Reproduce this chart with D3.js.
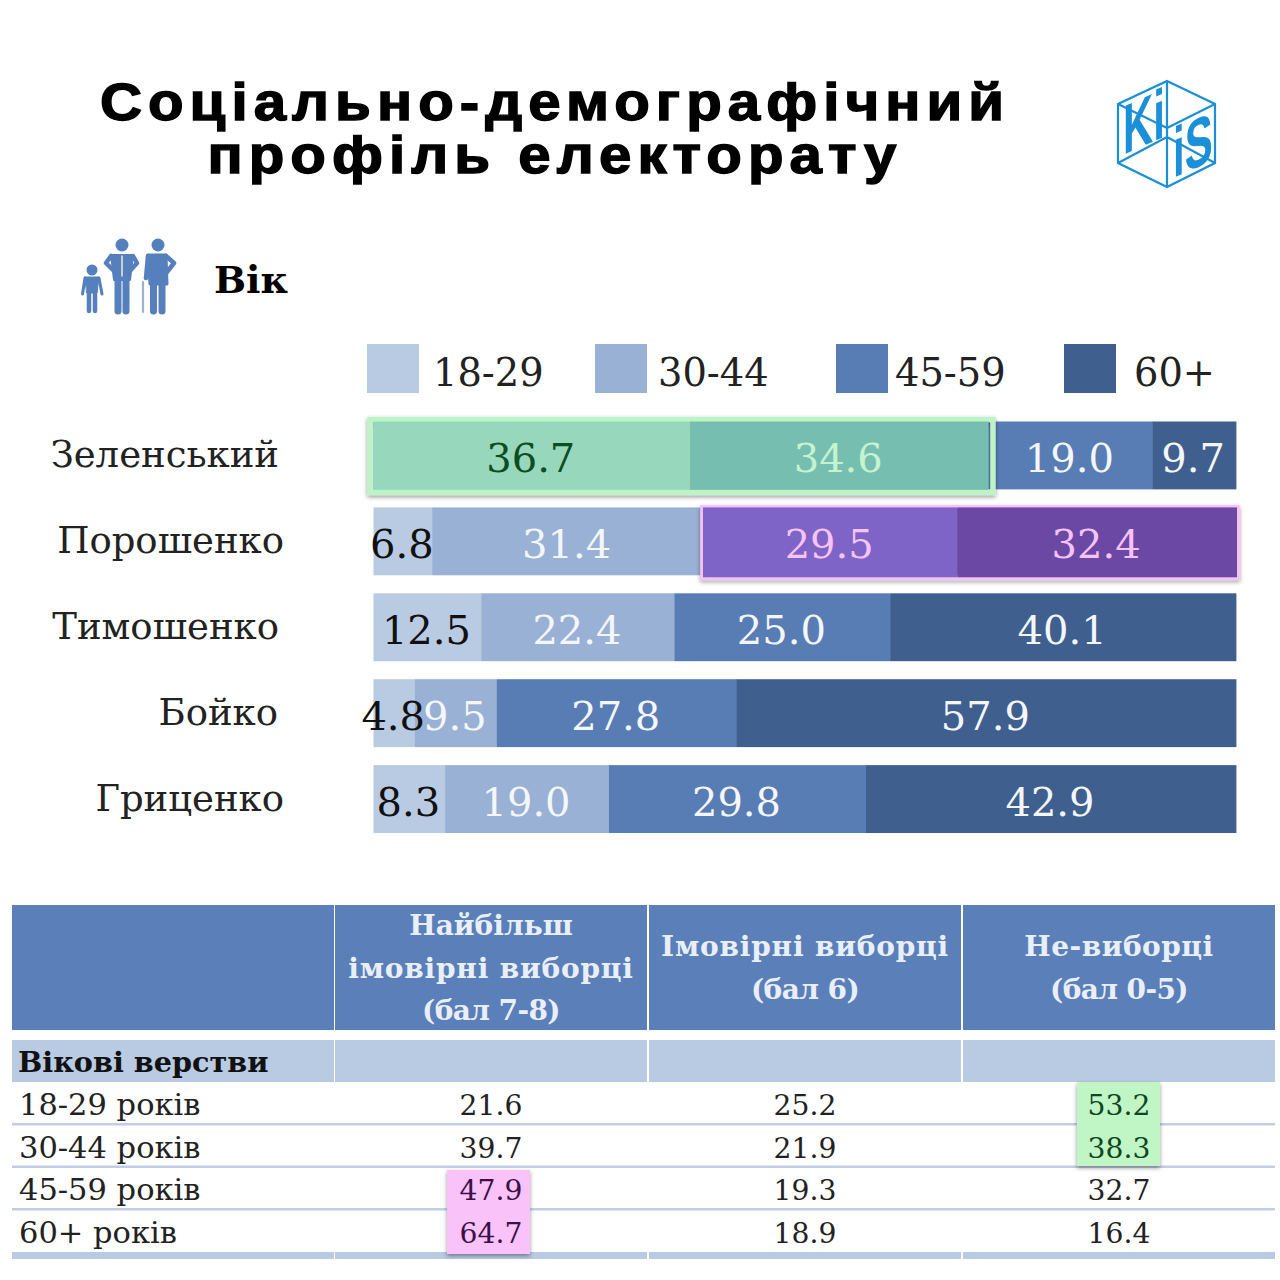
<!DOCTYPE html>
<html><head><meta charset="utf-8">
<script src="https://cdn.jsdelivr.net/npm/d3@7"></script>
<style>html,body{margin:0;padding:0;background:#fff}svg{display:block}</style>
</head><body><div id="c"></div>
<script>
const candidates=["Зеленський","Порошенко","Тимошенко","Бойко","Гриценко"];
const ageGroups=["18-29","30-44","45-59","60+"];
const v1829=[36.7,6.8,12.5,4.8,8.3];
const v3044=[34.6,31.4,22.4,9.5,19.0];
const v4559=[19.0,29.5,25.0,27.8,29.8];
const v60=[9.7,32.4,40.1,57.9,42.9];
const colors=["#b9cae3","#99b1d4","#587db4","#3f5f8f"];
const tableRows=["18-29 років","30-44 років","45-59 років","60+ років"];
const colMost=[21.6,39.7,47.9,64.7];
const colLikely=[25.2,21.9,19.3,18.9];
const colNon=[53.2,38.3,32.7,16.4];

const SERIF='"DejaVu Serif",serif', SANS='"Liberation Sans",Arial,sans-serif';
const svg=d3.select("#c").append("svg").attr("width",1280).attr("height",1280).attr("viewBox","0 0 1280 1280");
const defs=svg.append("defs");
const f=defs.append("filter").attr("id","sh").attr("x","-5%").attr("y","-10%").attr("width","110%").attr("height","125%");
f.append("feDropShadow").attr("dx",0).attr("dy",2).attr("stdDeviation",2).attr("flood-color","#000").attr("flood-opacity",.4);

// title
svg.append("g").selectAll("text").data([["Соціально-демографічний",555,120],["профіль електорату",555,173]]).join("text")
 .attr("transform",d=>`translate(${d[1]},${d[2]}) scale(1.12,1)`).attr("text-anchor","middle").attr("font-family",SANS).attr("font-weight",700)
 .attr("font-size",52).attr("letter-spacing",5.4).attr("fill","#000").attr("stroke","#000").attr("stroke-width",1.4).text(d=>d[0]);

// logo
const BLUE="#1b8fd8";
const logo=svg.append("g").attr("fill","none").attr("stroke",BLUE).attr("stroke-width",2.2);
logo.append("path").attr("d","M1167 81L1215 104L1215 163L1167 187L1118 163L1118 104Z");
logo.append("path").attr("d","M1118 104L1167 128L1215 104M1167 81L1167 187M1118 163L1167 137L1215 163");
[["Ki",1123,155],["iS",1173,178]].forEach(d=>{
  logo.append("text").attr("transform",`translate(${d[1]},${d[2]}) skewY(-24) scale(.6,1)`).attr("font-family",SANS).attr("font-weight",700)
    .attr("font-size",70).attr("fill",BLUE).attr("stroke","none").text(d[0]);
});

// age icon
const ic=svg.append("g").attr("fill","none").attr("stroke","#5580bd").attr("stroke-linecap","round").attr("stroke-linejoin","round");
function line(d,w,col){ic.append("path").attr("d",d).attr("stroke-width",w).attr("stroke",col||"#5580bd");}
function head(cx,cy,r){ic.append("circle").attr("cx",cx).attr("cy",cy).attr("r",r).attr("fill","#5580bd").attr("stroke","none");}
head(92,270,5.5);
ic.append("path").attr("d","M85 277L99 277L97 293L87 293Z").attr("fill","#5580bd").attr("stroke","#5580bd").attr("stroke-width",1);
line("M85 278L82.5 294",3); line("M99 278L102 294",3);
line("M89 292L89 311",4.5); line("M95 292L95 311",4.5);
head(122,245,6.5);
ic.append("path").attr("d","M111 255L133 255L130 280L114 280Z").attr("fill","#5580bd").attr("stroke","#5580bd").attr("stroke-width",2);
line("M111 256L106 263L115 272",4.5); line("M133 256L137 263L129 272",4.5);
line("M118 278L118 311",7); line("M126 278L126 311",7);
line("M122 256L122 276",1.6,"#e7e2d6");
head(158,245,6.5);
ic.append("path").attr("d","M148 255L166 255L167 284L150 284Z").attr("fill","#5580bd").attr("stroke","#5580bd").attr("stroke-width",3);
line("M148 256L146 278",4.5); line("M166 256L174 263L167 272",4.5);
line("M153.5 280L153.5 311",7); line("M162 280L162 311",7);
line("M143 282L143 312",2.2,"#9fb2cc");

svg.append("text").attr("x",214).attr("y",293).attr("font-family",SERIF).attr("font-weight",700).attr("font-size",38).attr("fill","#000").text("Вік");

// legend
const legX=[367,595,836,1064], legT=[433,658,895,1134];
const leg=svg.append("g").selectAll("g").data(ageGroups).join("g");
leg.append("rect").attr("x",(d,i)=>legX[i]).attr("y",344).attr("width",52).attr("height",49).attr("fill",(d,i)=>colors[i]);
leg.append("text").attr("x",(d,i)=>legT[i]).attr("y",386).attr("font-family",SERIF).attr("font-size",38.4).attr("fill","#222").text(d=>d);

// bars
const x=d3.scaleLinear().domain([0,100]).range([373.5,1236]);
const y=d3.scaleBand().domain(candidates).range([421.5,833]).paddingInner(.21).paddingOuter(0);
const rows=candidates.map((c,i)=>({c,vals:[v1829[i],v3044[i],v4559[i],v60[i]]}));
const textFill=["#111","#f4f6fb","#f4f6fb","#f4f6fb"];
rows.forEach(r=>{
  let acc=0;
  const g=svg.append("g");
  const segs=r.vals.map((v,i)=>{const s={v,i,a:acc,b:acc+v};acc+=v;return s;});
  g.selectAll("rect").data(segs).join("rect").attr("x",d=>x(d.a)).attr("y",y(r.c)).attr("width",d=>x(d.b)-x(d.a)+.4).attr("height",y.bandwidth()).attr("fill",d=>colors[d.i]);
});

// highlight boxes
const hl=svg.append("g");
hl.append("rect").attr("x",x(0)-3.5).attr("y",y(candidates[0])-2).attr("width",x(71.3)-x(0)+8).attr("height",y.bandwidth()+5)
 .attr("fill","none").attr("stroke","#bdf3c6").attr("stroke-width",5.5).attr("filter","url(#sh)");
hl.append("rect").attr("x",x(0)).attr("y",y(candidates[0])).attr("width",x(36.7)-x(0)).attr("height",y.bandwidth()+.5).attr("fill","#97d8bc");
hl.append("rect").attr("x",x(36.7)).attr("y",y(candidates[0])).attr("width",x(71.3)-x(36.7)).attr("height",y.bandwidth()+.5).attr("fill","#76bfb0");
hl.append("rect").attr("x",x(38.2)-1).attr("y",y(candidates[1])-.5).attr("width",x(100)-x(38.2)+3).attr("height",y.bandwidth()+3.5)
 .attr("fill","none").attr("stroke","#f7c0f7").attr("stroke-width",3.5).attr("filter","url(#sh)");
hl.append("rect").attr("x",x(38.2)).attr("y",y(candidates[1])).attr("width",x(67.7)-x(38.2)).attr("height",y.bandwidth()+2).attr("fill","#7e64c6");
hl.append("rect").attr("x",x(67.7)).attr("y",y(candidates[1])).attr("width",x(100)-x(67.7)+1).attr("height",y.bandwidth()+2).attr("fill","#6c48a5");

// bar labels
const labelRight=[279,284,279,278,284];
rows.forEach((r,ri)=>{
  let acc=0;
  r.vals.forEach((v,i)=>{
    let col=textFill[i];
    if(ri===0&&i===0)col="#0d4d22";
    if(ri===0&&i===1)col="#c5f3cf";
    if(ri===1&&(i===2||i===3))col="#f6c3f8";
    svg.append("text").attr("x",x(acc+v/2)-1).attr("y",y(r.c)+y.bandwidth()/2+16.5).attr("text-anchor","middle")
      .attr("font-family",SERIF).attr("font-size",40).attr("fill",col).text(v.toFixed(1));
    acc+=v;
  });
  svg.append("text").attr("x",labelRight[ri]).attr("y",y(r.c)+y.bandwidth()/2+12).attr("text-anchor","end")
    .attr("font-family",SERIF).attr("font-size",37).attr("fill","#222").text(r.c);
});

// table
const colX=[12,335,649,963], colW=[322,312,312,312];
const t=svg.append("g");
colX.forEach((cx,i)=>{
  t.append("rect").attr("x",cx).attr("y",905).attr("width",colW[i]).attr("height",125).attr("fill","#5b7fb8");
  t.append("rect").attr("x",cx).attr("y",1040).attr("width",colW[i]).attr("height",42).attr("fill","#b9cae3");
  t.append("rect").attr("x",cx).attr("y",1252).attr("width",colW[i]).attr("height",7).attr("fill","#b9cae3");
});
const headLines=[["Найбільш","імовірні виборці","(бал 7-8)"],["Імовірні виборці","(бал 6)"],["Не-виборці","(бал 0-5)"]];
const headY=[[935,978,1020],[956,999],[956,999]];
const headLs=[[0,.8,-.6],[.8,-.6],[.5,-.6]];
headLines.forEach((ls,i)=>ls.forEach((l,j)=>{
  t.append("text").attr("x",colX[i+1]+colW[i+1]/2).attr("y",headY[i][j]).attr("text-anchor","middle").attr("font-family",SERIF)
   .attr("font-weight",700).attr("font-size",28).attr("letter-spacing",headLs[i][j]).attr("fill","#e9eff8").text(l);
}));
t.append("text").attr("x",18).attr("y",1072).attr("font-family",SERIF).attr("font-weight",700).attr("font-size",28.7).attr("fill","#111").text("Вікові верстви");

const ry=d3.scaleBand().domain(tableRows).range([1082,1252]);
tableRows.slice(0,3).forEach(r=>{
  t.append("rect").attr("x",12).attr("y",ry(r)+ry.bandwidth()-1.5).attr("width",1263).attr("height",2.5).attr("fill","#c2cde6");
});
// highlight cells
const hc=svg.append("g");
hc.append("rect").attr("x",1077).attr("y",1082).attr("width",83).attr("height",84).attr("fill","#c0f5c6").attr("filter","url(#sh)");
hc.append("rect").attr("x",447).attr("y",1170).attr("width",83).attr("height",84).attr("fill","#f9c2f9").attr("filter","url(#sh)");
[colMost,colLikely,colNon].forEach((col,ci)=>{
  col.forEach((v,ri)=>{
    const hi=(ci===0&&ri>=2)?"#3a1048":(ci===2&&ri<2)?"#10451f":"#222";
    svg.append("text").attr("x",colX[ci+1]+colW[ci+1]/2).attr("y",ry(tableRows[ri])+33).attr("text-anchor","middle")
      .attr("font-family",SERIF).attr("font-size",28.2).attr("fill",hi).text(v.toFixed(1));
  });
});
tableRows.forEach(r=>{
  svg.append("text").attr("x",19).attr("y",ry(r)+33).attr("font-family",SERIF).attr("font-size",30.5).attr("fill","#222").text(r);
});
</script></body></html>
